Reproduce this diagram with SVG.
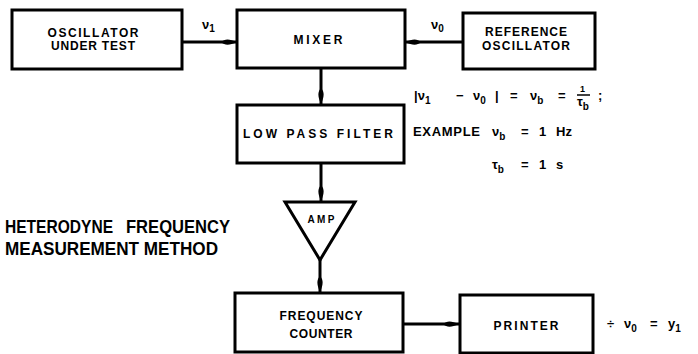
<svg xmlns="http://www.w3.org/2000/svg" width="698" height="354" viewBox="0 0 698 354">
  <style>
    .box { fill: #fff; stroke: #000; stroke-width: 3; }
    .wire { fill: none; stroke: #000; stroke-width: 3; marker-end: url(#ah); }
    .lbl { font-family: "Liberation Sans", Arial, sans-serif; font-weight: bold; font-size: 12px; text-anchor: middle; fill: #000; }
    .eq { font-family: "Liberation Sans", Arial, sans-serif; font-weight: bold; font-size: 13px; fill: #000; }
    .sub { font-size: 10px; }
    .title { font-family: "Liberation Sans", Arial, sans-serif; font-weight: bold; font-size: 18px; fill: #000; }
  </style>
  <defs>
    <marker id="ah" viewBox="0 0 16 8" refX="16" refY="4" markerWidth="16" markerHeight="8" markerUnits="userSpaceOnUse" orient="auto">
      <path d="M0,4 C4,0.5 8,0.5 16,4 C8,7.5 4,7.5 0,4 Z" fill="#000"/>
    </marker>
  </defs>
  <rect width="698" height="354" fill="#fff"/>

  <g id="connectors">
    <line class="wire" x1="182" y1="42" x2="237" y2="42"/>
    <line class="wire" x1="463" y1="42" x2="405" y2="42"/>
    <line class="wire" x1="321" y1="68" x2="321" y2="104"/>
    <line class="wire" x1="321" y1="163" x2="321" y2="201"/>
    <line class="wire" x1="320" y1="260" x2="320" y2="292"/>
    <line class="wire" x1="403" y1="324" x2="459" y2="324"/>
  </g>

  <g id="osc-under-test">
    <rect class="box" x="12" y="10" width="170" height="59"/>
    <text class="lbl" x="93" y="37" textLength="91" lengthAdjust="spacing">OSCILLATOR</text>
    <text class="lbl" x="93" y="50" textLength="84" lengthAdjust="spacing">UNDER TEST</text>
  </g>

  <g id="mixer">
    <rect class="box" x="237" y="10" width="168" height="58"/>
    <text class="lbl" x="318" y="44" textLength="49" lengthAdjust="spacing">MIXER</text>
  </g>

  <g id="ref-osc">
    <rect class="box" x="463" y="13" width="132" height="56"/>
    <text class="lbl" x="526" y="36" textLength="82" lengthAdjust="spacing">REFERENCE</text>
    <text class="lbl" x="526" y="50" textLength="88" lengthAdjust="spacing">OSCILLATOR</text>
  </g>

  <g id="lpf">
    <rect class="box" x="237" y="105" width="167" height="58"/>
    <text class="lbl" x="318" y="138" textLength="150" lengthAdjust="spacing">LOW PASS FILTER</text>
  </g>

  <g id="amp">
    <polygon class="box" points="285,202 355,202 320,260" stroke-linejoin="miter"/>
    <text class="lbl" x="321" y="223" textLength="27" lengthAdjust="spacing" style="font-size:10px">AMP</text>
  </g>

  <g id="freq-counter">
    <rect class="box" x="235" y="293" width="168" height="59"/>
    <text class="lbl" x="321" y="320" textLength="83" lengthAdjust="spacing">FREQUENCY</text>
    <text class="lbl" x="321" y="338" textLength="63" lengthAdjust="spacing">COUNTER</text>
  </g>

  <g id="printer">
    <rect class="box" x="460" y="295" width="133" height="58"/>
    <text class="lbl" x="526" y="330" textLength="65" lengthAdjust="spacing">PRINTER</text>
  </g>

  <g id="labels">
    <text class="eq" x="202" y="29">ν<tspan class="sub" dy="3">1</tspan></text>
    <text class="eq" x="431" y="29">ν<tspan class="sub" dy="3">0</tspan></text>

    <text class="eq" y="100">
      <tspan x="414">|ν</tspan><tspan class="sub" dy="4">1</tspan><tspan x="456" dy="-4">−</tspan><tspan x="473">ν</tspan><tspan class="sub" dy="4">0</tspan><tspan x="495" dy="-4">|</tspan><tspan x="510">=</tspan><tspan x="530">ν</tspan><tspan class="sub" dy="4">b</tspan><tspan x="558" dy="-4">=</tspan><tspan x="598">;</tspan>
    </text>
    <text class="eq" x="580" y="92" style="font-size:9px">1</text>
    <line x1="577" y1="95" x2="590" y2="95" stroke="#000" stroke-width="1.5"/>
    <text class="eq" y="106"><tspan x="577">τ</tspan><tspan class="sub" dy="4">b</tspan></text>

    <text class="eq" y="136">
      <tspan x="413" textLength="67" lengthAdjust="spacing">EXAMPLE</tspan><tspan x="492">ν</tspan><tspan class="sub" dy="4">b</tspan><tspan x="521" dy="-4">=</tspan><tspan x="539">1</tspan><tspan x="556">Hz</tspan>
    </text>
    <text class="eq" y="169">
      <tspan x="492">τ</tspan><tspan class="sub" dy="4">b</tspan><tspan x="521" dy="-4">=</tspan><tspan x="539">1</tspan><tspan x="556">s</tspan>
    </text>

    <text class="eq" y="328">
      <tspan x="607">÷</tspan><tspan x="624">ν</tspan><tspan class="sub" dy="4">0</tspan><tspan x="650" dy="-4">=</tspan><tspan x="668">y</tspan><tspan class="sub" dy="4">1</tspan>
    </text>

    <text class="title" y="233"><tspan x="5" textLength="108" lengthAdjust="spacingAndGlyphs">HETERODYNE</tspan><tspan x="126" textLength="104" lengthAdjust="spacingAndGlyphs">FREQUENCY</tspan></text>
    <text class="title" x="5" y="255" textLength="213" lengthAdjust="spacingAndGlyphs">MEASUREMENT METHOD</text>
  </g>
</svg>
